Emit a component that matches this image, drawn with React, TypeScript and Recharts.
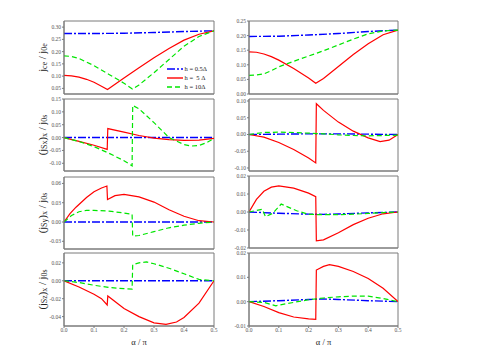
import React from "react";
import { LineChart, Line, XAxis, YAxis, Legend, ReferenceArea } from "recharts";

type Pt = [number, number];

const ALPHA_TICKS = [0, 0.1, 0.2, 0.3, 0.4, 0.5];
const LEGEND_NAMES = ["h = 0.5Δ", "h =  5 Δ", "h = 10Δ"];

// row 1: jce / j0e
const jceL_h05: Pt[] = [[0, 0.274], [0.1, 0.274], [0.2, 0.275], [0.3, 0.278], [0.4, 0.282], [0.5, 0.285]];
const jceL_h5: Pt[] = [[0, 0.103], [0.025, 0.101], [0.05, 0.096], [0.075, 0.087], [0.1, 0.075], [0.125, 0.059], [0.145, 0.045], [0.2, 0.092], [0.25, 0.134], [0.3, 0.175], [0.35, 0.213], [0.4, 0.247], [0.45, 0.271], [0.5, 0.285]];
const jceL_h10: Pt[] = [[0, 0.183], [0.025, 0.18], [0.05, 0.172], [0.1, 0.143], [0.15, 0.107], [0.2, 0.071], [0.228, 0.047], [0.25, 0.064], [0.3, 0.114], [0.35, 0.168], [0.4, 0.222], [0.45, 0.262], [0.5, 0.285]];
const jceR_h05: Pt[] = [[0, 0.197], [0.1, 0.198], [0.2, 0.202], [0.3, 0.207], [0.4, 0.214], [0.5, 0.219]];
const jceR_h5: Pt[] = [[0, 0.144], [0.025, 0.143], [0.05, 0.137], [0.075, 0.128], [0.1, 0.116], [0.15, 0.087], [0.2, 0.055], [0.224, 0.037], [0.25, 0.053], [0.3, 0.094], [0.35, 0.135], [0.4, 0.172], [0.45, 0.203], [0.5, 0.219]];
const jceR_h10: Pt[] = [[0, 0.064], [0.025, 0.065], [0.05, 0.069], [0.075, 0.08], [0.1, 0.093], [0.15, 0.112], [0.2, 0.13], [0.25, 0.148], [0.3, 0.168], [0.35, 0.188], [0.4, 0.206], [0.45, 0.216], [0.5, 0.219]];

// row 2: (jSx)x / j0s
const sxL_h05: Pt[] = [[0, 0], [0.25, 0], [0.5, 0]];
const sxL_h5: Pt[] = [[0, 0], [0.05, -0.015], [0.1, -0.03], [0.144, -0.046], [0.146, 0.035], [0.2, 0.021], [0.25, 0.008], [0.3, -0.002], [0.35, -0.008], [0.4, -0.011], [0.45, -0.01], [0.5, -0.003]];
const sxL_h10: Pt[] = [[0, 0], [0.05, -0.015], [0.1, -0.035], [0.15, -0.061], [0.2, -0.09], [0.227, -0.11], [0.229, 0.125], [0.25, 0.112], [0.3, 0.058], [0.35, 0.0], [0.4, -0.027], [0.425, -0.033], [0.45, -0.031], [0.475, -0.02], [0.5, -0.003]];
const sxR_h05: Pt[] = [[0, 0], [0.1, 0.001], [0.2, 0.002], [0.3, 0.002], [0.4, 0.001], [0.5, 0]];
const sxR_h5: Pt[] = [[0, 0], [0.05, -0.008], [0.1, -0.024], [0.15, -0.045], [0.2, -0.07], [0.224, -0.085], [0.226, 0.092], [0.25, 0.072], [0.3, 0.037], [0.35, 0.01], [0.4, -0.01], [0.44, -0.021], [0.47, -0.017], [0.5, 0]];
const sxR_h10: Pt[] = [[0, 0], [0.05, 0.006], [0.1, 0.007], [0.15, 0.006], [0.2, 0.004], [0.25, 0.002], [0.3, -0.001], [0.35, -0.003], [0.4, -0.004], [0.45, -0.003], [0.5, -0.002]];

// row 3: (jSy)x / j0s
const syL_h05: Pt[] = [[0, 0], [0.25, 0], [0.5, 0]];
const syL_h5: Pt[] = [[0, 0], [0.02, 0.013], [0.04, 0.023], [0.075, 0.038], [0.1, 0.047], [0.125, 0.053], [0.143, 0.056], [0.145, 0.035], [0.17, 0.041], [0.2, 0.043], [0.25, 0.039], [0.3, 0.031], [0.35, 0.019], [0.4, 0.009], [0.45, 0.002], [0.5, 0]];
const syL_h10: Pt[] = [[0, 0], [0.025, 0.01], [0.05, 0.016], [0.075, 0.018], [0.1, 0.018], [0.15, 0.017], [0.2, 0.014], [0.227, 0.012], [0.229, -0.022], [0.25, -0.021], [0.3, -0.015], [0.35, -0.009], [0.4, -0.005], [0.45, -0.002], [0.5, 0]];
const syR_h05: Pt[] = [[0, 0], [0.1, -0.0007], [0.2, -0.0012], [0.25, -0.0013], [0.3, -0.0011], [0.4, -0.0005], [0.5, 0]];
const syR_h5: Pt[] = [[0, 0], [0.025, 0.007], [0.05, 0.0115], [0.075, 0.0138], [0.1, 0.0145], [0.15, 0.0133], [0.2, 0.0105], [0.224, 0.0085], [0.226, -0.016], [0.25, -0.0155], [0.3, -0.0115], [0.35, -0.007], [0.4, -0.0035], [0.45, -0.001], [0.5, 0]];
const syR_h10: Pt[] = [[0, 0], [0.045, 0.0015], [0.055, -0.0026], [0.08, -0.0007], [0.108, 0.0044], [0.16, 0.0007], [0.2, -0.0013], [0.25, -0.0015], [0.3, -0.0015], [0.35, -0.0012], [0.4, -0.0008], [0.45, -0.0003], [0.5, 0]];

// row 4: (jSz)x / j0s
const szL_h05: Pt[] = [[0, 0], [0.25, 0], [0.5, 0]];
const szL_h5: Pt[] = [[0, 0], [0.05, -0.007], [0.1, -0.015], [0.125, -0.02], [0.144, -0.027], [0.146, -0.017], [0.2, -0.031], [0.25, -0.04], [0.3, -0.047], [0.34, -0.0487], [0.375, -0.046], [0.4, -0.041], [0.45, -0.025], [0.5, 0]];
const szL_h10: Pt[] = [[0, 0], [0.05, -0.002], [0.1, -0.005], [0.15, -0.0075], [0.2, -0.0088], [0.227, -0.0093], [0.229, 0.018], [0.25, 0.02], [0.275, 0.021], [0.3, 0.019], [0.35, 0.014], [0.4, 0.0078], [0.45, 0.0015], [0.5, 0]];
const szR_h05: Pt[] = [[0, 0], [0.1, 0.0004], [0.2, 0.0009], [0.25, 0.0011], [0.3, 0.0009], [0.4, 0.0004], [0.5, 0]];
const szR_h5: Pt[] = [[0, 0], [0.05, -0.002], [0.1, -0.0045], [0.15, -0.0063], [0.2, -0.0071], [0.224, -0.0073], [0.226, 0.013], [0.25, 0.0145], [0.27, 0.0152], [0.3, 0.0145], [0.35, 0.0124], [0.4, 0.0095], [0.45, 0.0055], [0.5, 0]];
const szR_h10: Pt[] = [[0, 0], [0.05, -0.0003], [0.09, -0.0017], [0.125, -0.0008], [0.15, -0.0003], [0.2, 0.0008], [0.25, 0.0015], [0.3, 0.002], [0.35, 0.0023], [0.4, 0.0023], [0.45, 0.0013], [0.5, 0]];

const FONT = "'Liberation Serif', 'DejaVu Serif', serif";
const FRAME = "#7a7a7a";
const STYLES = [
  { color: "#0000ff", dash: "8 2 2 2" },
  { color: "#ff0000", dash: undefined },
  { color: "#00e600", dash: "5 3" },
];

const toRows = (pts: Pt[]) => pts.map(([x, y]) => ({ x, y }));

// y title pieces: [text, isSub]
type Part = [string, boolean];

const YTitle = ({ viewBox, parts }: { viewBox?: any; parts: Part[] }) => {
  if (!viewBox) return null;
  const x = viewBox.x + 8;
  const y = viewBox.y + viewBox.height / 2;
  let shift = 0;
  return (
    <text
      x={x}
      y={y}
      transform={`rotate(-90 ${x} ${y})`}
      textAnchor="middle"
      dominantBaseline="central"
      fontSize={10.5}
      fontFamily={FONT}
      fill="#222"
    >
      {parts.map(([t, sub], i) => {
        const target = sub ? 2 : 0;
        const dy = target - shift;
        shift = target;
        return (
          <tspan key={i} dy={dy} fontSize={sub ? 8 : 10.5}>
            {t}
          </tspan>
        );
      })}
    </text>
  );
};

const LegendBox = () => (
  <div style={{ fontFamily: FONT, fontSize: 6.5, lineHeight: "9px", color: "#222" }}>
    {STYLES.map((s, i) => (
      <div key={i} style={{ display: "flex", alignItems: "center", height: 9 }}>
        <svg width={16} height={4} style={{ marginRight: 1.5 }}>
          <line x1={0} y1={2} x2={16} y2={2} stroke={s.color} strokeWidth={1.4} strokeDasharray={s.dash} />
        </svg>
        <span style={{ whiteSpace: "pre" }}>{LEGEND_NAMES[i]}</span>
      </div>
    ))}
  </div>
);

interface PanelProps {
  left: number;
  top: number;
  w: number;
  h: number;
  domain: [number, number];
  ticks: number[];
  series: Pt[][];
  title?: Part[];
  showX?: boolean;
  legend?: boolean;
}

function Panel({ left, top, w, h, domain, ticks, series, title, showX, legend }: PanelProps) {
  const yw = 30;
  const mt = 3;
  const mr = 4;
  const xh = showX ? 24 : 3;
  const tickStyle = { fontSize: 5.5, fill: "#555", fontFamily: FONT };
  return (
    <div style={{ position: "absolute", left: left - yw, top: top - mt }}>
      <LineChart
        width={w + yw + mr}
        height={h + mt + xh}
        margin={{ top: mt, right: mr, bottom: 0, left: 0 }}
      >
        <XAxis
          dataKey="x"
          type="number"
          domain={[0, 0.5]}
          ticks={ALPHA_TICKS}
          allowDataOverflow
          height={xh}
          stroke={FRAME}
          tickSize={2}
          tickMargin={0}
          tick={showX ? tickStyle : false}
          tickFormatter={(v: number) => v.toFixed(1)}
          label={showX ? { value: "α / π", position: "insideBottom", offset: 5, fontSize: 8.5, fontFamily: FONT, fill: "#222" } : undefined}
        />
        <XAxis
          xAxisId="top"
          orientation="top"
          type="number"
          domain={[0, 0.5]}
          ticks={ALPHA_TICKS}
          height={0}
          mirror
          tick={false}
          tickSize={2}
          axisLine={false}
          stroke={FRAME}
        />
        <YAxis
          type="number"
          domain={domain}
          ticks={ticks}
          allowDataOverflow
          width={yw}
          stroke={FRAME}
          tickSize={2}
          tickMargin={1}
          tick={tickStyle}
          tickFormatter={(v: number) => v.toFixed(2)}
          label={title ? (p: any) => <YTitle viewBox={p.viewBox} parts={title} /> : undefined}
        />
        <ReferenceArea
          x1={0}
          x2={0.5}
          y1={domain[0]}
          y2={domain[1]}
          fill="none"
          stroke={FRAME}
          strokeWidth={1}
          ifOverflow="visible"
        />
        <ReferenceArea
          x1={0}
          x2={0.5}
          y1={domain[1]}
          y2={domain[1]}
          fill="none"
          stroke="#c4c4c4"
          strokeWidth={1.5}
          ifOverflow="visible"
        />
        {series.map((pts, i) => (
          <Line
            key={i}
            data={toRows(pts)}
            dataKey="y"
            name={LEGEND_NAMES[i]}
            type="linear"
            stroke={STYLES[i].color}
            strokeDasharray={STYLES[i].dash}
            strokeWidth={i === 0 ? 1.4 : 1.2}
            dot={false}
            isAnimationActive={false}
          />
        ))}
        {legend && (
          <Legend
            layout="vertical"
            align="center"
            verticalAlign="middle"
            content={() => <LegendBox />}
            wrapperStyle={{ left: 133, top: 46, width: 70 }}
          />
        )}
      </LineChart>
    </div>
  );
}

export default function App() {
  const L = 64;
  const R = 249;
  return (
    <div style={{ position: "absolute", left: 0, top: 0, width: 498, height: 353, background: "#fff" }}>
      <Panel
        left={L} top={21} w={150} h={73}
        domain={[0.027, 0.325]} ticks={[0.05, 0.1, 0.15, 0.2, 0.25, 0.3]}
        series={[jceL_h05, jceL_h5, jceL_h10]}
        title={[["j", false], ["ce", true], [" / j", false], ["0e", true]]}
        legend
      />
      <Panel
        left={R} top={21} w={149} h={73}
        domain={[0, 0.25]} ticks={[0, 0.05, 0.1, 0.15, 0.2, 0.25]}
        series={[jceR_h05, jceR_h5, jceR_h10]}
      />
      <Panel
        left={L} top={99} w={150} h={72}
        domain={[-0.13, 0.15]} ticks={[-0.1, -0.05, 0, 0.05, 0.1, 0.15]}
        series={[sxL_h05, sxL_h5, sxL_h10]}
        title={[["(j", false], ["Sx", true], [")", false], ["x", true], [" / j", false], ["0s", true]]}
      />
      <Panel
        left={R} top={99} w={149} h={72}
        domain={[-0.109, 0.106]} ticks={[-0.1, -0.05, 0, 0.05, 0.1]}
        series={[sxR_h05, sxR_h5, sxR_h10]}
      />
      <Panel
        left={L} top={177} w={150} h={72}
        domain={[-0.042, 0.07]} ticks={[-0.03, 0, 0.03, 0.06]}
        series={[syL_h05, syL_h5, syL_h10]}
        title={[["(j", false], ["Sy", true], [")", false], ["x", true], [" / j", false], ["0s", true]]}
      />
      <Panel
        left={R} top={176} w={149} h={72}
        domain={[-0.02, 0.02]} ticks={[-0.02, -0.01, 0, 0.01, 0.02]}
        series={[syR_h05, syR_h5, syR_h10]}
      />
      <Panel
        left={L} top={253} w={150} h={73}
        domain={[-0.0505, 0.031]} ticks={[-0.04, -0.02, 0, 0.02]}
        series={[szL_h05, szL_h5, szL_h10]}
        title={[["(j", false], ["Sz", true], [")", false], ["x", true], [" / j", false], ["0s", true]]}
        showX
      />
      <Panel
        left={R} top={253} w={149} h={73}
        domain={[-0.01, 0.02]} ticks={[-0.01, 0, 0.01, 0.02]}
        series={[szR_h05, szR_h5, szR_h10]}
        showX
      />
    </div>
  );
}
